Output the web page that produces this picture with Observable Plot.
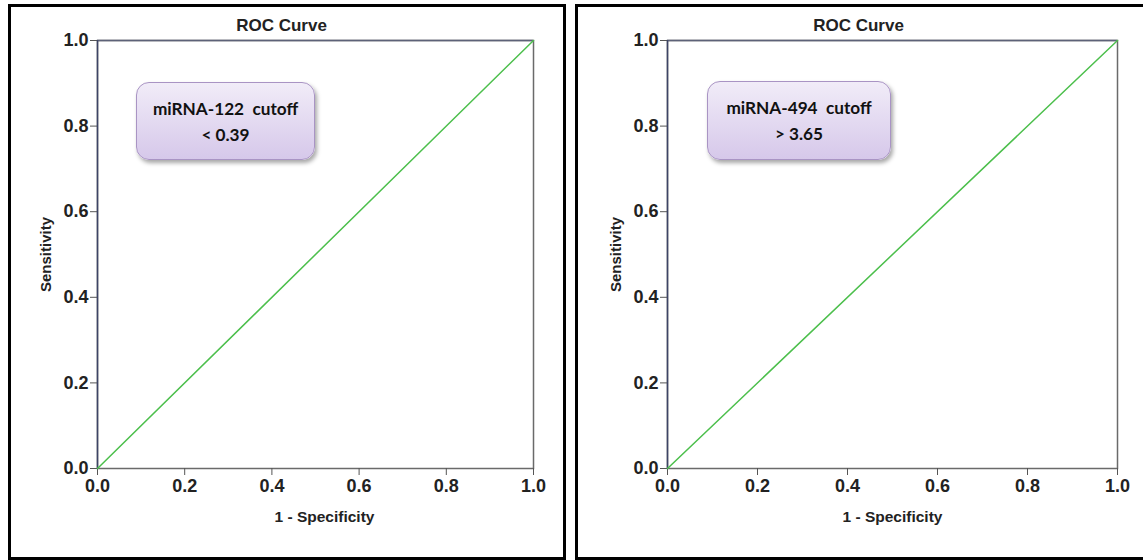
<!DOCTYPE html>
<html>
<head>
<meta charset="utf-8">
<script src="https://cdn.jsdelivr.net/npm/d3@7"></script>
<script src="https://cdn.jsdelivr.net/npm/@observablehq/plot@0.6"></script>
<style>
  html, body { margin: 0; padding: 0; background: #fff; }
  body { width: 1143px; height: 560px; position: relative; overflow: hidden; font-family: "Liberation Sans", Arial, sans-serif; }
  .panel { position: absolute; border: 3px solid #000; box-sizing: border-box; }
  .plotwrap { position: absolute; top: 0; }
  .note {
    position: absolute; box-sizing: border-box;
    border: 1px solid #a994c4; border-radius: 13px;
    background: linear-gradient(#f1ecf8, #d6c8ea);
    box-shadow: 2px 3px 4px rgba(0,0,0,0.35);
    font-family: Lato, "Open Sans", sans-serif; font-weight: bold; font-size: 17.2px; color: #111;
    text-align: center; line-height: 26px; padding-top: 13px; white-space: pre;
  }
</style>
</head>
<body>
<div class="panel" style="left:8px; top:4px; width:558px; height:556px;"></div>
<div class="panel" style="left:575px; top:4px; width:600px; height:556px;"></div>
<div id="p1" class="plotwrap" style="left:0px;"></div>
<div id="p2" class="plotwrap" style="left:570px;"></div>
<div class="note" id="n1" style="left:136px; top:82px; width:179px; height:78px;"></div>
<div class="note" id="n2" style="left:707px; top:81px; width:184px; height:79px;"></div>
<script>
// Data
const markers = ["miRNA-122", "miRNA-494"];
const cutoffs = ["< 0.39", "> 3.65"];
const fpr122 = [0, 1];
const tpr122 = [0, 1];
const fpr494 = [0, 1];
const tpr494 = [0, 1];
const axisTicks = [0, 0.2, 0.4, 0.6, 0.8, 1.0];
const chartTitle = "ROC Curve";
const xLabel = "1 - Specificity";
const yLabel = "Sensitivity";

function panel(fpr, tpr, width, marginRight, xLabelDx) {
  const pts = fpr.map((f, i) => ({fpr: f, tpr: tpr[i]}));
  return Plot.plot({
    width, height: 560,
    marginLeft: 97, marginRight, marginTop: 40, marginBottom: 92,
    x: {domain: [0, 1]},
    y: {domain: [0, 1]},
    style: {fontFamily: "'Liberation Sans', Arial, sans-serif", fontSize: "16px", fontWeight: "bold", color: "#222", background: "transparent", overflow: "visible"},
    marks: [
      Plot.frame({stroke: "#6a6a6a", strokeWidth: 1.5}),
      Plot.ruleY([1], {stroke: "#5d6278", strokeWidth: 1.5}),
      Plot.axisX({ticks: axisTicks, tickFormat: d3.format(".1f"), tickSize: 7, tickPadding: 4, stroke: "#555", fontSize: 18, fontWeight: "bold", label: null}),
      Plot.text([xLabel], {frameAnchor: "bottom", lineAnchor: "middle", dy: 49, dx: xLabelDx, fontSize: 15.5, fontWeight: "bold", fill: "#222"}),
      Plot.axisY({ticks: axisTicks, tickFormat: d3.format(".1f"), tickSize: 7, tickPadding: 2, stroke: "#555", fontSize: 18, fontWeight: "bold", label: null}),
      Plot.axisY({ticks: [], tickSize: 0, label: yLabel, labelAnchor: "center", labelArrow: "none", labelOffset: 57, fontSize: 15, fontWeight: "bold"}),
      Plot.ruleX([0], {stroke: "#3d4466", strokeWidth: 1.5}),
      Plot.line(pts, {x: "fpr", y: "tpr", stroke: "#4cbf4c", strokeWidth: 1.5}),
      Plot.text([chartTitle], {frameAnchor: "top", lineAnchor: "middle", dy: -15, dx: -34, fontSize: 17, fontWeight: "bold", fill: "#222"})
    ]
  });
}

document.getElementById("p1").append(panel(fpr122, tpr122, 565, 32, 9));
document.getElementById("p2").append(panel(fpr494, tpr494, 573, 26, 0));
document.getElementById("n1").textContent = markers[0] + "  cutoff\n" + cutoffs[0];
document.getElementById("n2").textContent = markers[1] + "  cutoff\n" + cutoffs[1];
</script>
</body>
</html>
